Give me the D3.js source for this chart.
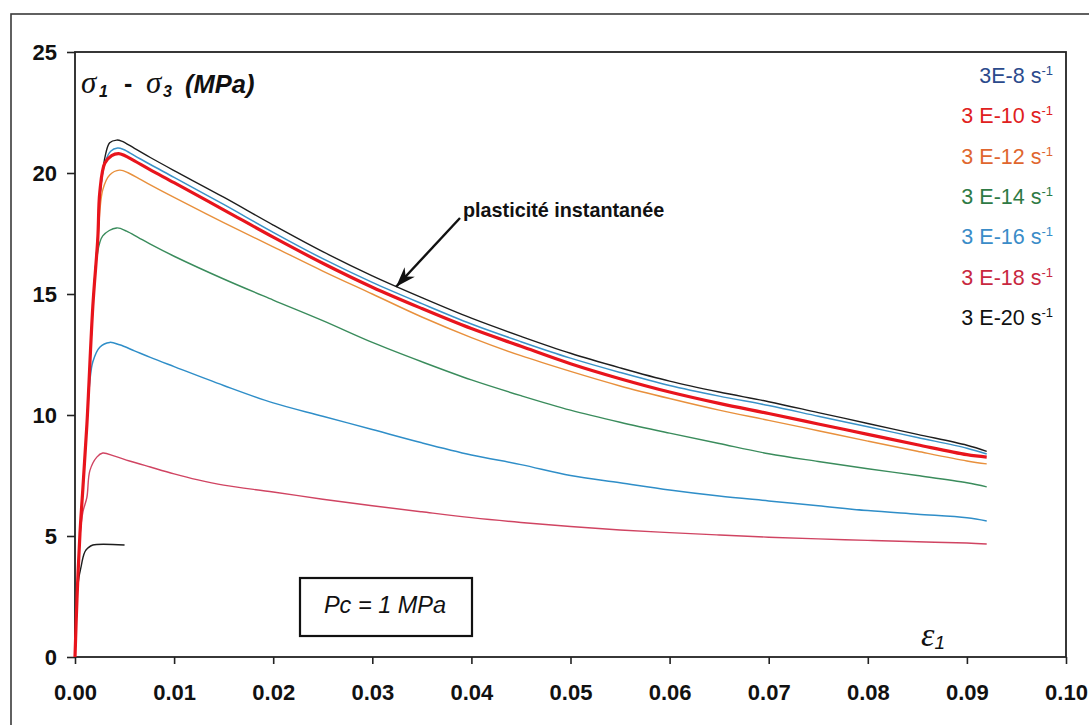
<!DOCTYPE html>
<html>
<head>
<meta charset="utf-8">
<script src="https://cdn.jsdelivr.net/npm/d3@7"></script>
<style>
  html, body { margin: 0; padding: 0; background: #fff; }
  svg { display: block; font-family: "Liberation Sans", Arial, sans-serif; }
</style>
</head>
<body>
<svg id="chart" width="1089" height="725"></svg>
<script>
// ---------------- DATA ----------------
const xTicks = [0, 0.01, 0.02, 0.03, 0.04, 0.05, 0.06, 0.07, 0.08, 0.09, 0.10];
const yTicks = [0, 5, 10, 15, 20, 25];

const seriesNames = ["plasticité instantanée", "3E-8", "3 E-10", "3 E-12", "3 E-14", "3 E-16", "3 E-18", "3 E-20"];

// [strain eps1, stress sigma1 - sigma3 (MPa)]
const instantane = [[0,0],[0.0002,2.4],[0.0005,5.1],[0.0008,7.0],[0.0012,9.6],[0.0018,14.5],[0.0023,17.4],[0.0026,19.4],[0.0031,20.8],[0.0035,21.25],[0.0042,21.36],[0.0047,21.32],
  [0.006,21.02],[0.0076,20.64],[0.01,20.1],[0.015,19.0],[0.02,17.85],[0.025,16.75],[0.03,15.75],[0.035,14.85],[0.04,14.0],[0.045,13.25],[0.05,12.55],[0.055,11.95],[0.06,11.4],[0.065,10.95],[0.07,10.55],[0.075,10.1],[0.08,9.65],[0.085,9.2],[0.09,8.75],[0.092,8.5]];
const rate3e8 = [[0,0],[0.0002,2.4],[0.0005,5.1],[0.0008,7.0],[0.0012,9.6],[0.0018,14.5],[0.0023,17.4],[0.0026,19.4],[0.003,20.4],[0.0036,20.9],[0.0043,21.03],[0.0049,20.97],
  [0.006,20.72],[0.0076,20.35],[0.01,19.82],[0.015,18.7],[0.02,17.55],[0.025,16.46],[0.03,15.48],[0.035,14.6],[0.04,13.76],[0.045,13.03],[0.05,12.35],[0.055,11.76],[0.06,11.22],[0.065,10.78],[0.07,10.39],[0.075,9.95],[0.08,9.51],[0.085,9.07],[0.09,8.63],[0.092,8.39]];
const rate3e10 = [[0,0],[0.0002,2.4],[0.0005,5.1],[0.0008,7.0],[0.0012,9.6],[0.0018,14.5],[0.0023,17.3],[0.0025,19.2],[0.003,20.4],[0.0037,20.72],[0.0044,20.8],[0.005,20.72],
  [0.006,20.5],[0.0076,20.13],[0.01,19.6],[0.015,18.48],[0.02,17.35],[0.025,16.27],[0.03,15.28],[0.035,14.4],[0.04,13.57],[0.045,12.84],[0.05,12.12],[0.055,11.5],[0.06,10.95],[0.065,10.48],[0.07,10.06],[0.075,9.63],[0.08,9.2],[0.085,8.77],[0.09,8.36],[0.092,8.26]];
const rate3e12 = [[0,0],[0.0002,2.4],[0.0005,5.1],[0.0008,7.0],[0.0012,9.6],[0.0018,14.5],[0.0023,17.2],[0.0028,19.3],[0.0035,19.92],[0.0045,20.12],[0.0055,19.98],
  [0.0065,19.76],[0.0076,19.51],[0.01,18.99],[0.015,17.95],[0.02,16.95],[0.025,15.95],[0.03,15.0],[0.035,14.05],[0.04,13.2],[0.045,12.45],[0.05,11.8],[0.055,11.2],[0.06,10.68],[0.065,10.2],[0.07,9.78],[0.075,9.35],[0.08,8.92],[0.085,8.5],[0.09,8.1],[0.092,7.98]];
const rate3e14 = [[0,0],[0.0002,2.4],[0.0005,5.1],[0.0008,7.0],[0.0012,9.6],[0.0018,14.5],[0.0022,16.5],[0.0028,17.4],[0.0042,17.73],[0.0052,17.6],
  [0.0064,17.33],[0.0076,17.06],[0.01,16.56],[0.015,15.62],[0.02,14.75],[0.025,13.9],[0.03,13.0],[0.035,12.2],[0.04,11.45],[0.045,10.8],[0.05,10.2],[0.055,9.7],[0.06,9.25],[0.065,8.82],[0.07,8.4],[0.075,8.08],[0.08,7.78],[0.085,7.5],[0.09,7.2],[0.092,7.03]];
const rate3e16 = [[0,0],[0.0002,2.4],[0.0005,5.1],[0.0008,7.0],[0.0012,9.6],[0.0015,11.4],[0.0018,12.2],[0.0025,12.8],[0.0035,13.0],[0.0045,12.9],
  [0.006,12.65],[0.0076,12.38],[0.01,12.0],[0.015,11.22],[0.02,10.5],[0.025,9.95],[0.03,9.4],[0.035,8.85],[0.04,8.35],[0.045,7.95],[0.05,7.5],[0.055,7.2],[0.06,6.9],[0.065,6.65],[0.07,6.45],[0.075,6.25],[0.08,6.05],[0.085,5.9],[0.09,5.75],[0.092,5.62]];
const rate3e18 = [[0,0],[0.0002,2.4],[0.0005,5.0],[0.0008,6.0],[0.0012,6.6],[0.0015,7.7],[0.0022,8.26],[0.0028,8.43],[0.004,8.3],[0.0055,8.1],
  [0.0076,7.85],[0.01,7.57],[0.0123,7.33],[0.015,7.1],[0.02,6.82],[0.025,6.52],[0.03,6.25],[0.035,6.0],[0.04,5.76],[0.045,5.56],[0.05,5.39],[0.055,5.25],[0.06,5.14],[0.065,5.04],[0.07,4.95],[0.075,4.88],[0.08,4.82],[0.085,4.76],[0.09,4.71],[0.092,4.67]];
const rate3e20 = [[0,0],[0.0001,2.0],[0.0004,3.3],[0.0006,3.7],[0.0008,4.1],[0.001,4.35],[0.0013,4.5],[0.0018,4.63],[0.005,4.63]];

const curveColors = ["#1e1e1e", "#3a92c8", "#e8141c", "#e8903c", "#3a8c5c", "#2f8ec8", "#d04462", "#1e1e1e"];
const legendColors = ["#2b4a8c", "#e02020", "#e0662e", "#2e7a45", "#3a8cc8", "#c8283f", "#111111"];
const legendLabels = ["3E-8 s", "3 E-10 s", "3 E-12 s", "3 E-14 s", "3 E-16 s", "3 E-18 s", "3 E-20 s"];

// ---------------- DRAW ----------------
const svg = d3.select("#chart");
const x = d3.scaleLinear().domain([0, 0.1]).range([75, 1066]);
const y = d3.scaleLinear().domain([0, 25]).range([657, 52]);

// outer frame
svg.append("rect").attr("x", 11).attr("y", 14).attr("width", 1200).attr("height", 900)
  .attr("fill", "none").attr("stroke", "#3a3a3a").attr("stroke-width", 1.6);

// plot border
svg.append("rect").attr("x", x(0)).attr("y", y(25)).attr("width", x(0.1) - x(0)).attr("height", y(0) - y(25))
  .attr("fill", "none").attr("stroke", "#222").attr("stroke-width", 1.8);

// axes
const yAxis = svg.append("g").attr("transform", `translate(${x(0)},0)`)
  .call(d3.axisLeft(y).tickValues(yTicks).tickFormat(d3.format("d")).tickSize(8).tickPadding(10));
const xAxis = svg.append("g").attr("transform", `translate(0,${y(0)})`)
  .call(d3.axisBottom(x).tickValues(xTicks).tickFormat(d3.format(".2f")).tickSize(7).tickPadding(20));
[yAxis, xAxis].forEach(g => {
  g.select(".domain").remove();
  g.selectAll(".tick line").attr("stroke", "#222").attr("stroke-width", 1.6);
  g.selectAll(".tick text").attr("fill", "#111").style("font-family", "'Liberation Sans', Arial, sans-serif")
    .style("font-weight", "bold").style("font-size", "22px");
});

// curves
const line = d3.line().x(d => x(d[0])).y(d => y(d[1])).curve(d3.curveCatmullRom.alpha(0.5));
const allSeries = [instantane, rate3e8, rate3e10, rate3e12, rate3e14, rate3e16, rate3e18, rate3e20];
const drawOrder = [0, 1, 3, 4, 5, 6, 7, 2];
const widths = [1.4, 1.5, 3.2, 1.4, 1.4, 1.5, 1.4, 1.4];
drawOrder.forEach(i => {
  svg.append("path").datum(allSeries[i])
    .attr("fill", "none").attr("stroke", curveColors[i]).attr("stroke-width", widths[i])
    .attr("stroke-linejoin", "round").attr("d", line)
    .append("title").text(seriesNames[i]);
});

// legend
const legend = svg.append("g");
legendLabels.forEach((lab, i) => {
  const t = legend.append("text").attr("x", 1053).attr("y", 83 + i * 40.3)
    .attr("text-anchor", "end").attr("fill", legendColors[i]).style("font-size", "21.5px");
  t.append("tspan").text(lab);
  t.append("tspan").attr("dy", -8).style("font-size", "13px").text("-1");
});

// y-axis title
const yt = svg.append("g").attr("fill", "#111");
const serif = "'Liberation Serif', 'DejaVu Serif', serif";
yt.append("text").attr("x", 81).attr("y", 93).style("font-family", serif).style("font-style", "italic").style("font-size", "31px").text("σ");
yt.append("text").attr("x", 99).attr("y", 97).style("font-weight", "bold").style("font-style", "italic").style("font-size", "16px").text("1");
yt.append("text").attr("x", 124).attr("y", 92).style("font-weight", "bold").style("font-size", "25px").text("-");
yt.append("text").attr("x", 146).attr("y", 93).style("font-family", serif).style("font-style", "italic").style("font-size", "31px").text("σ");
yt.append("text").attr("x", 163).attr("y", 97).style("font-weight", "bold").style("font-style", "italic").style("font-size", "16px").text("3");
yt.append("text").attr("x", 185).attr("y", 93).style("font-weight", "bold").style("font-style", "italic").style("font-size", "25.5px").text("(MPa)");

// x-axis title
const xt = svg.append("text").attr("x", 921).attr("y", 646).attr("fill", "#111").style("font-style", "italic");
xt.append("tspan").style("font-family", serif).style("font-size", "34px").text("ε");
xt.append("tspan").attr("dy", 3).style("font-size", "19px").text("1");

// annotation
svg.append("text").attr("x", 463).attr("y", 217).attr("fill", "#111")
  .style("font-weight", "bold").style("font-size", "19.8px").text("plasticité instantanée");
const ax1 = 460, ay1 = 218, ax2 = x(0.0324), ay2 = y(15.3);
svg.append("line").attr("x1", ax1).attr("y1", ay1).attr("x2", ax2).attr("y2", ay2)
  .attr("stroke", "#111").attr("stroke-width", 2.4);
svg.append("path")
  .attr("d", (() => {
    const a = Math.atan2(ay2 - ay1, ax2 - ax1), L = 20, W = 7;
    const bx = ax2 - L * Math.cos(a), by = ay2 - L * Math.sin(a);
    const px = -Math.sin(a) * W, py = Math.cos(a) * W;
    return `M${ax2},${ay2} L${bx + px},${by + py} L${bx + 6 * Math.cos(a)},${by + 6 * Math.sin(a)} L${bx - px},${by - py} Z`;
  })()).attr("fill", "#111");

// Pc box
svg.append("rect").attr("x", 300).attr("y", 578).attr("width", 172).attr("height", 58)
  .attr("fill", "#fff").attr("stroke", "#111").attr("stroke-width", 2.2);
svg.append("text").attr("x", 385).attr("y", 613).attr("text-anchor", "middle").attr("fill", "#111")
  .style("font-style", "italic").style("font-size", "23.5px").text("Pc = 1 MPa");
</script>
</body>
</html>
